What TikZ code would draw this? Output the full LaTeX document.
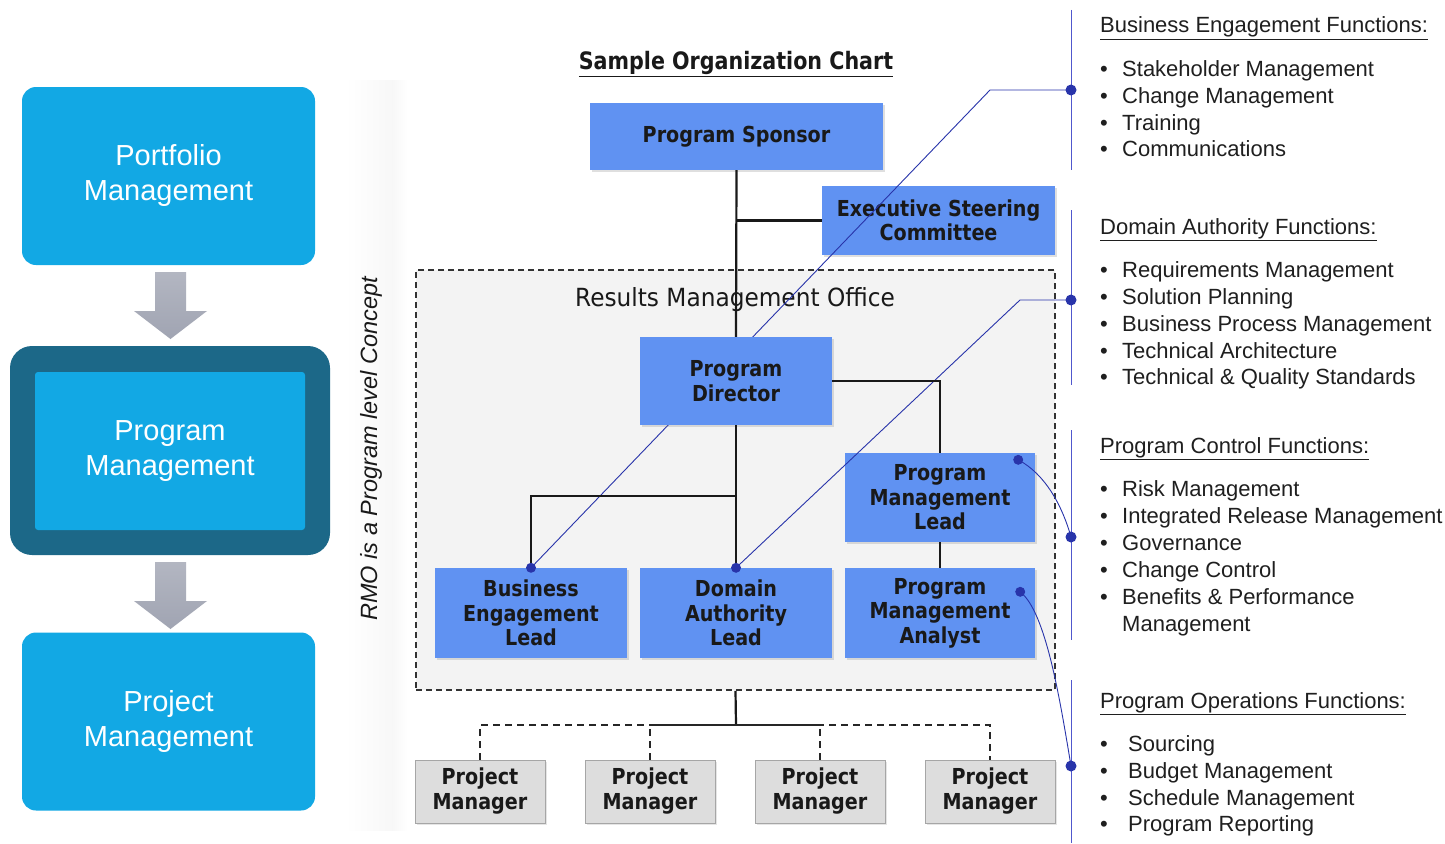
\documentclass[tikz,border=0pt]{standalone}
\usepackage{fontspec}
\setmainfont{Liberation Sans}
\newfontfamily\boxfont[FakeStretch=0.87]{DejaVu Sans}
\newfontfamily\titlefont[FakeStretch=0.86]{DejaVu Sans}
\newfontfamily\rmofont[FakeStretch=0.93]{DejaVu Sans}
\usetikzlibrary{calc,shadows}
\definecolor{cyanbox}{RGB}{18,168,228}
\definecolor{tealdark}{RGB}{28,104,136}
\definecolor{boxblue}{RGB}{96,146,242}
\definecolor{pmgray}{RGB}{221,221,221}
\definecolor{navyline}{RGB}{40,52,170}
\definecolor{spine}{RGB}{80,88,205}
\definecolor{rmofill}{RGB}{243,243,243}
\definecolor{arrowgray}{RGB}{160,164,178}
\tikzset{
  lbox/.style={rectangle, rounded corners=14pt, fill=cyanbox, text=white, align=center,
    minimum width=293pt, minimum height=178pt, inner sep=0pt,
    font=\fontsize{29}{35}\selectfont},
  bbox/.style={rectangle, fill=boxblue, align=center, inner sep=0pt, text=black!90,
    drop shadow={shadow xshift=2pt, shadow yshift=-2pt, opacity=0.25},
    font=\boxfont\bfseries\fontsize{22}{24.5}\selectfont},
  pmbox/.style={rectangle, fill=pmgray, draw=black!35, line width=0.8pt, align=center, inner sep=0pt,
    minimum width=130pt, minimum height=63pt, text=black!90,
    drop shadow={shadow xshift=2pt, shadow yshift=-2pt, opacity=0.2},
    font=\boxfont\bfseries\fontsize{22}{25}\selectfont},
  conn/.style={draw=black!90, line width=2.2pt},
  dashconn/.style={draw=black!85, line width=2pt, dash pattern=on 7pt off 5pt},
  bline/.style={draw=navyline, line width=0.9pt},
  spineline/.style={draw=spine, line width=1pt},
  bdot/.style={fill=navyline},
  head/.style={anchor=base west, font=\fontsize{22}{27}\selectfont, text=black!88, inner sep=0pt},
  item/.style={anchor=base west, font=\fontsize{22}{27}\selectfont, text=black!88, inner sep=0pt},
  bul/.style={anchor=base west, font=\fontsize{22}{27}\selectfont, text=black!88, inner sep=0pt},
  garrow/.style={top color=arrowgray!80, bottom color=arrowgray},
}
\begin{document}
\begin{tikzpicture}[x=1pt,y=-1pt]
\useasboundingbox (0,0) rectangle (1445,843);
\fill[white] (0,0) rectangle (1445,843);
% faint band behind the vertical caption
\shade[left color=white, right color=black!3] (345,80) rectangle (392,830);
\shade[left color=black!3, right color=white] (392,80) rectangle (408,830);

% ---------- left column ----------
\node[lbox] (portfolio) at (168.5,176) {Portfolio\\Management};
\node[rectangle, rounded corners=22pt, fill=tealdark, minimum width=320pt, minimum height=209pt, inner sep=0pt] (progouter) at (170,450.5) {};
\node[lbox, rounded corners=3pt, minimum width=270pt, minimum height=158pt] (program) at (170,451) {Program\\Management};
\node[lbox] (project) at (168.5,721.5) {Project\\Management};

\shade[garrow] (155,272) -- (186,272) -- (186,311) -- (207,311) -- (170.5,339) -- (134,311) -- (155,311) -- cycle;
\shade[garrow] (155,562) -- (186,562) -- (186,601) -- (207,601) -- (170.5,629) -- (134,601) -- (155,601) -- cycle;

\node[rotate=90, font=\itshape\fontsize{23.5}{27}\selectfont, text=black!90] (rmocap) at (371,449) {RMO is a Program level Concept};

% ---------- org chart ----------
\node[font=\titlefont\bfseries\fontsize{24}{28}\selectfont, text=black!90] (title) at (736,64) {\underline{Sample Organization Chart}};

\node[rectangle, draw=black!80, dash pattern=on 6pt off 4pt, line width=1.6pt, fill=rmofill, minimum width=639pt, minimum height=420pt, inner sep=0pt] (rmo) at (735.5,480) {};
\node[font=\rmofont\fontsize{25}{28}\selectfont, text=black!90] (rmolabel) at (735,300) {Results Management Office};

\node[bbox, minimum width=293pt, minimum height=67pt] (sponsor) at (736.5,136.5) {Program Sponsor};
\node[bbox, minimum width=233pt, minimum height=69pt] (esc) at (938.5,220.5) {Executive Steering\\Committee};
\node[bbox, minimum width=190pt, minimum height=89pt] (pml) at (940,497.5) {Program\\Management\\Lead};
\node[bbox, minimum width=190pt, minimum height=90pt] (pma) at (940,613) {Program\\Management\\Analyst};
\node[bbox, minimum width=192pt, minimum height=90pt] (bel) at (531,613) {Business\\Engagement\\Lead};
\node[bbox, minimum width=192pt, minimum height=90pt] (dal) at (736,613) {Domain\\Authority\\Lead};

\node[pmbox] (pm1) at (480,791.5) {Project\\Manager};
\node[pmbox] (pm2) at (650,791.5) {Project\\Manager};
\node[pmbox] (pm3) at (820,791.5) {Project\\Manager};
\node[pmbox] (pm4) at (990,791.5) {Project\\Manager};

% blue function lines (behind the director box)
\coordinate (d1) at (1071,90);
\coordinate (d2) at (1071,300);
\coordinate (d3) at (1071,537);
\coordinate (d4) at (1071,766);
\coordinate (k1) at (990,90);
\coordinate (k2) at (1020,300);
\coordinate (pmldot) at ($(pml.north east)+(-17,7)$);
\coordinate (pmadot) at ($(pma.north east)+(-15,24)$);

\draw[spineline] (1071,10) -- (1071,170);
\draw[spineline] (1071,210) -- (1071,385);
\draw[spineline] (1071,430) -- (1071,640);
\draw[spineline] (1071,680) -- (1071,843);

\draw[bline] (bel.north) -- (k1) -- (d1);
\draw[bline] (dal.north) -- (k2) -- (d2);
\draw[bline] (pmldot) .. controls (1045,474) and (1062,505) .. (d3);
\draw[bline] (pmadot) .. controls (1046,612) and (1060,700) .. (d4);

\node[bbox, minimum width=192pt, minimum height=88pt] (director) at (736,381) {Program\\Director};

% tree connectors
\coordinate (jb) at (736,496);
\coordinate (pmbus) at (736,725);
\draw[conn] (sponsor.south) -- (director.north);
\draw[conn] (esc.west) -- (esc.west -| sponsor.south);
\draw[conn] (director.east) -| (pml.north);
\draw[conn] (pml.south) -- (pma.north);
\draw[conn] (director.south) -- (dal.north);
\draw[conn] (bel.north) |- (jb);
\draw[conn] (rmo.south) -- (pmbus);
\draw[dashconn] (pm1.north) |- (pmbus) -| (pm4.north);
\draw[dashconn] (pm2.north) -- (pm2.north |- pmbus);
\draw[dashconn] (pm3.north) -- (pm3.north |- pmbus);
\draw[line width=2pt, draw=black!85] (650,725) -- (820,725);

% dots
\fill[bdot] (bel.north) circle (5);
\fill[bdot] (dal.north) circle (5);
\fill[bdot] (pmldot) circle (5);
\fill[bdot] (pmadot) circle (5);
\fill[bdot] (d1) circle (5.5);
\fill[bdot] (d2) circle (5.5);
\fill[bdot] (d3) circle (5.5);
\fill[bdot] (d4) circle (5.5);

% ---------- right text ----------
\node[head] (h1) at (1100,33) {\underline{Business Engagement Functions:}};
\node[bul] (b11) at (1100,76) {•}; \node[item] (i11) at (1122,76) {Stakeholder Management};
\node[bul] (b12) at (1100,103) {•}; \node[item] (i12) at (1122,103) {Change Management};
\node[bul] (b13) at (1100,130) {•}; \node[item] (i13) at (1122,130) {Training};
\node[bul] (b14) at (1100,156) {•}; \node[item] (i14) at (1122,156) {Communications};

\node[head] (h2) at (1100,234) {\underline{Domain Authority Functions:}};
\node[bul] (b21) at (1100,277) {•}; \node[item] (i21) at (1122,277) {Requirements Management};
\node[bul] (b22) at (1100,304) {•}; \node[item] (i22) at (1122,304) {Solution Planning};
\node[bul] (b23) at (1100,331) {•}; \node[item] (i23) at (1122,331) {Business Process Management};
\node[bul] (b24) at (1100,358) {•}; \node[item] (i24) at (1122,358) {Technical Architecture};
\node[bul] (b25) at (1100,384) {•}; \node[item] (i25) at (1122,384) {Technical \& Quality Standards};

\node[head] (h3) at (1100,453) {\underline{Program Control Functions:}};
\node[bul] (b31) at (1100,496) {•}; \node[item] (i31) at (1122,496) {Risk Management};
\node[bul] (b32) at (1100,523) {•}; \node[item] (i32) at (1122,523) {Integrated Release Management};
\node[bul] (b33) at (1100,550) {•}; \node[item] (i33) at (1122,550) {Governance};
\node[bul] (b34) at (1100,577) {•}; \node[item] (i34) at (1122,577) {Change Control};
\node[bul] (b35) at (1100,604) {•}; \node[item] (i35) at (1122,604) {Benefits \& Performance};
\node[item] (i36) at (1122,631) {Management};

\node[head] (h4) at (1100,708) {\underline{Program Operations Functions:}};
\node[bul] (b41) at (1100,751) {•}; \node[item] (i41) at (1128,751) {Sourcing};
\node[bul] (b42) at (1100,778) {•}; \node[item] (i42) at (1128,778) {Budget Management};
\node[bul] (b43) at (1100,805) {•}; \node[item] (i43) at (1128,805) {Schedule Management};
\node[bul] (b44) at (1100,831) {•}; \node[item] (i44) at (1128,831) {Program Reporting};
\end{tikzpicture}
\end{document}
